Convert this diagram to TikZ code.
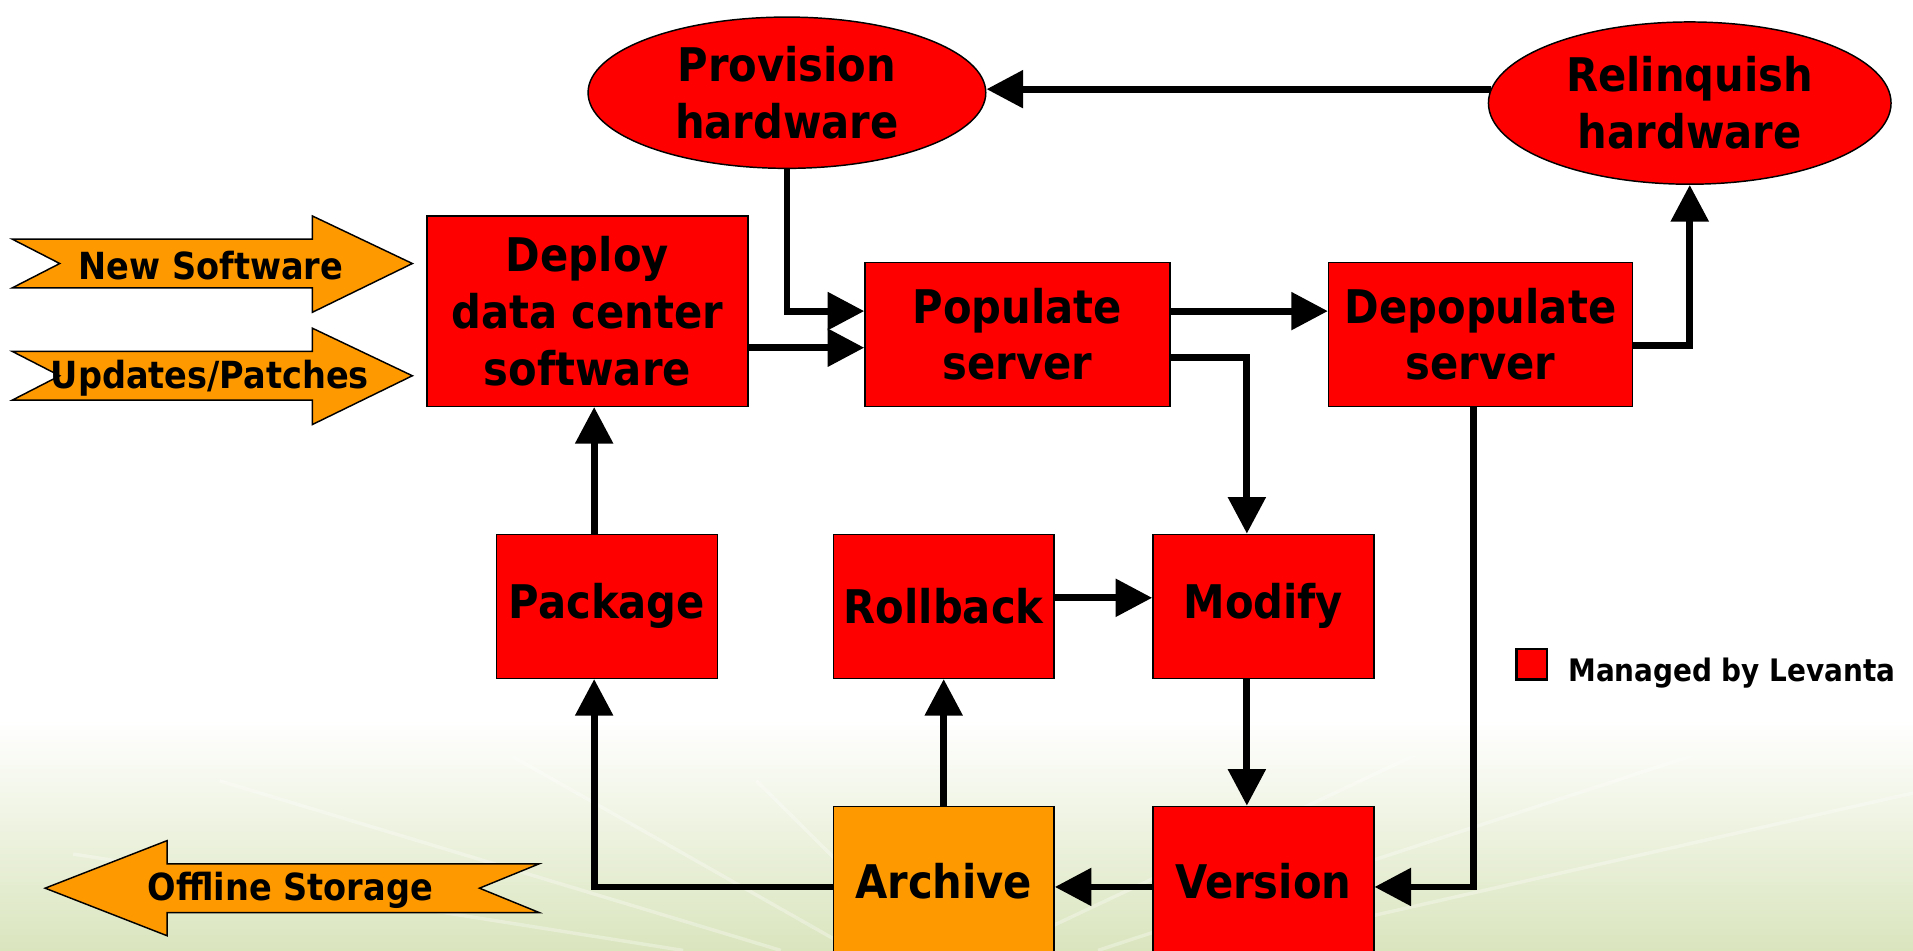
\documentclass[tikz,border=0pt]{standalone}
\usepackage{fontspec}
\setmainfont{DejaVu Sans Condensed}[BoldFont={DejaVu Sans Condensed Bold}]
\usetikzlibrary{arrows.meta,calc,shapes.geometric}

\definecolor{boxred}{HTML}{FF0000}
\definecolor{boxorange}{HTML}{FF9900}
\definecolor{bggreen}{RGB}{218,229,190}

\tikzset{
  stage/.style={draw=black, line width=0.6pt, fill=boxred, inner sep=0pt,
    align=center, font=\bfseries\fontsize{19}{23.3}\selectfont},
  stagebox/.style={stage, rectangle},
  stageoval/.style={stage, ellipse},
  flow/.style={line width=2.8pt, -{Triangle[length=15pt,width=15pt]}},
  banner/.style={draw=black, line width=0.6pt, fill=boxorange},
  bannertext/.style={font=\bfseries\fontsize{15.3}{18}\selectfont, inner sep=0pt},
}

\begin{document}
\begin{tikzpicture}[x=0.5pt, y=-0.5pt]
  \useasboundingbox (0,0) rectangle (1568,779);

  % background: white fading into pale green at the bottom
  \fill[white] (0,0) rectangle (1568,779);
  \shade[top color=white, bottom color=bggreen] (0,590) rectangle (1568,779);
  \begin{scope}
    \clip (0,620) rectangle (1568,779);
    \foreach \ax/\ay/\bx/\by in {640/779/180/640, 700/779/420/620, 760/779/620/640,
        820/779/1200/600, 900/779/1568/560, 1000/779/1568/650, 560/779/60/700}
      \draw[white, opacity=0.3, line width=1.4pt] (\ax,\ay) -- (\bx,\by);
  \end{scope}

  % process stages
  \node[stageoval, minimum width=163pt, minimum height=62pt] (Prov) at (645,76)
    {Provision\\hardware};
  \node[stageoval, minimum width=165pt, minimum height=66.5pt] (Rel) at (1385,84.5)
    {Relinquish\\hardware};
  \node[stagebox, minimum width=131.5pt, minimum height=78pt] (Dep) at (481.5,255)
    {Deploy\\data center\\software};
  \node[stagebox, minimum width=125pt, minimum height=59pt] (Pop) at (834,274)
    {Populate\\server};
  \node[stagebox, minimum width=124.5pt, minimum height=59pt] (Depop) at (1213.5,274)
    {Depopulate\\server};
  \node[stagebox, minimum width=90.5pt, minimum height=59pt] (Pack) at (497.5,497)
    {Package};
  \node[stagebox, minimum width=90.5pt, minimum height=59pt] (Roll) at (773.5,497)
    {Rollback};
  \node[stagebox, minimum width=90.5pt, minimum height=59pt] (Mod) at (1035.5,497)
    {Modify};
  \node[stagebox, fill=boxorange, minimum width=90.5pt, minimum height=61pt] (Arc) at (773.5,722)
    {Archive};
  \node[stagebox, minimum width=90.5pt, minimum height=61pt] (Ver) at (1035.5,722)
    {Version};

  % inputs and output
  \draw[banner] (10,196) -- (256,196) -- (256,177) -- (338,216) -- (256,256)
    -- (256,236) -- (10,236) -- (49,216) -- cycle;
  \node[bannertext] (NewSw) at (173,218) {New Software};
  \draw[banner] (10,288) -- (256,288) -- (256,269) -- (338,308) -- (256,348)
    -- (256,328) -- (10,328) -- (49,308) -- cycle;
  \node[bannertext] (Upd) at (172,310) {Updates/Patches};
  \draw[banner] (37,728) -- (137,689) -- (137,708) -- (442,708) -- (393,728)
    -- (442,748) -- (137,748) -- (137,767) -- cycle;
  \node[bannertext] (Offl) at (238,730) {Offline Storage};

  % legend
  \node[draw=black, line width=0.9pt, fill=boxred, minimum size=12.5pt, inner sep=0pt]
    (LegBox) at (1255.5,544.5) {};
  \node[anchor=west, inner sep=0pt, font=\bfseries\fontsize{12.7}{15}\selectfont]
    (LegText) at (1285,552) {Managed by Levanta};

  % connectors
  \draw[flow] (Rel.176) -- (Rel.176 -| Prov.east);
  \coordinate (PopInA) at ($(Pop.west)+(0,-19)$);
  \coordinate (PopInB) at ($(Pop.west)+(0,11)$);
  \draw[flow] (Prov.south) |- (PopInA);
  \draw[flow] (Dep.east |- PopInB) -- (PopInB);
  \draw[flow] ($(Pop.east)+(0,-19)$) -- ($(Depop.west)+(0,-19)$);
  \draw[flow] ($(Pop.east)+(0,19)$) -| ($(Mod.north)+(-13.5,0)$);
  \draw[flow] ($(Depop.east)+(0,9)$) -| (Rel.south);
  \draw[flow] ($(Depop.south)+(-5.5,0)$) |- ($(Ver.east)+(0,5)$);
  \draw[flow] ($(Roll.east)+(0,-7)$) -- ($(Mod.west)+(0,-7)$);
  \draw[flow] ($(Mod.south)+(-13.5,0)$) -- ($(Ver.north)+(-13.5,0)$);
  \draw[flow] ($(Ver.west)+(0,5)$) -- ($(Arc.east)+(0,5)$);
  \coordinate (PackIn) at ($(Pack.south)+(-10.5,0)$);
  \draw[flow] ($(Arc.west)+(0,5)$) -| (PackIn);
  \draw[flow] (Arc.north) -- (Roll.south);
  \coordinate (PackOut) at ($(Pack.north)+(-10.5,0)$);
  \draw[flow] (PackOut) -- (PackOut |- Dep.south);
\end{tikzpicture}
\end{document}
